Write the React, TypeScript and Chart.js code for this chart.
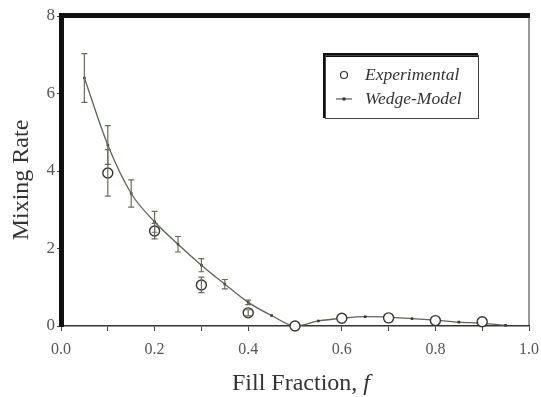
import { useEffect, useRef } from 'react';
import { Chart, registerables } from 'chart.js';
Chart.register(...registerables);

const wedgeX = [0.05, 0.1, 0.15, 0.2, 0.25, 0.3, 0.35, 0.4, 0.45, 0.5, 0.55, 0.6, 0.65, 0.7, 0.75, 0.8, 0.85, 0.9, 0.95];
const wedgeY = [6.4, 4.67, 3.42, 2.69, 2.11, 1.57, 1.08, 0.61, 0.27, 0.0, 0.13, 0.2, 0.24, 0.23, 0.19, 0.15, 0.1, 0.07, 0.02];
const wedgeErr = [0.63, 0.5, 0.35, 0.27, 0.2, 0.17, 0.12, 0.06, 0, 0, 0, 0, 0, 0, 0, 0, 0, 0, 0];
const expX = [0.1, 0.2, 0.3, 0.4, 0.5, 0.6, 0.7, 0.8, 0.9];
const expY = [3.95, 2.45, 1.06, 0.34, 0.0, 0.2, 0.21, 0.14, 0.11];
const expErr = [0.6, 0.2, 0.2, 0.08, 0, 0, 0, 0, 0];
const xTickLabels = ['0.0', '0.2', '0.4', '0.6', '0.8', '1.0'];
const yTicks = [0, 2, 4, 6, 8];

const SERIF = '"Liberation Serif", "Times New Roman", serif';

export default function App() {
  const ref = useRef<HTMLCanvasElement>(null);
  useEffect(() => {
    document.body.style.margin = '0';
    const deco = {
      id: 'deco',
      afterDatasetsDraw(chart: any) {
        const ctx = chart.ctx;
        const xs = chart.scales.x;
        const ys = chart.scales.y;
        ctx.save();
        ctx.strokeStyle = '#6b6b5a';
        ctx.lineWidth = 1.2;
        const bar = (x: number, y: number, e: number) => {
          if (!e) return;
          const px = xs.getPixelForValue(x);
          const y1 = ys.getPixelForValue(y + e);
          const y2 = ys.getPixelForValue(y - e);
          ctx.beginPath();
          ctx.moveTo(px, y1); ctx.lineTo(px, y2);
          ctx.moveTo(px - 3, y1); ctx.lineTo(px + 3, y1);
          ctx.moveTo(px - 3, y2); ctx.lineTo(px + 3, y2);
          ctx.stroke();
        };
        wedgeX.forEach((x, i) => bar(x, wedgeY[i], wedgeErr[i]));
        expX.forEach((x, i) => bar(x, expY[i], expErr[i]));
        ctx.restore();
      },
      afterDraw(chart: any) {
        const ctx = chart.ctx;
        const a = chart.chartArea;
        ctx.save();
        // top thick bar and right thin line
        ctx.fillStyle = '#111';
        ctx.fillRect(a.left - 2, a.top - 3, a.right - a.left + 3, 5);
        ctx.strokeStyle = '#333';
        ctx.lineWidth = 1;
        ctx.beginPath();
        ctx.moveTo(a.right, a.top); ctx.lineTo(a.right, a.bottom);
        ctx.stroke();
        // legend box
        const lx = 325, ly = 55, lw = 153, lh = 63;
        ctx.fillStyle = '#111';
        ctx.fillRect(lx - 2, ly - 2, lw + 2, lh + 2);
        ctx.fillStyle = '#fff';
        ctx.fillRect(lx + 1, ly + 2, lw - 1, lh - 2);
        ctx.strokeStyle = '#444';
        ctx.lineWidth = 1;
        ctx.strokeRect(lx + 0.5, ly + 0.5, lw, lh);
        // legend entries
        ctx.beginPath();
        ctx.arc(344, 75, 3.5, 0, Math.PI * 2);
        ctx.fillStyle = '#fff';
        ctx.fill();
        ctx.strokeStyle = '#333';
        ctx.lineWidth = 1.2;
        ctx.stroke();
        ctx.beginPath();
        ctx.moveTo(336, 99); ctx.lineTo(352, 99);
        ctx.strokeStyle = '#555';
        ctx.stroke();
        ctx.fillStyle = '#333';
        ctx.fillRect(342.5, 97.5, 3, 3);
        ctx.fillStyle = '#333';
        ctx.font = `italic 17.5px ${SERIF}`;
        ctx.textBaseline = 'middle';
        ctx.textAlign = 'left';
        ctx.fillText('Experimental', 365, 75);
        ctx.fillText('Wedge-Model', 365, 99);
        // axis titles
        ctx.font = `24px ${SERIF}`;
        const t1 = 'Fill Fraction, ';
        const w1 = ctx.measureText(t1).width;
        ctx.font = `italic 24px ${SERIF}`;
        const w2 = ctx.measureText('f').width;
        const sx = 301 - (w1 + w2) / 2;
        ctx.font = `24px ${SERIF}`;
        ctx.fillText(t1, sx, 384);
        ctx.font = `italic 24px ${SERIF}`;
        ctx.fillText('f', sx + w1, 384);
        ctx.translate(22, 180);
        ctx.rotate(-Math.PI / 2);
        ctx.textAlign = 'center';
        ctx.font = `24px ${SERIF}`;
        ctx.fillText('Mixing Rate', 0, 0);
        ctx.restore();
      },
    };
    const chart = new Chart(ref.current!, {
      type: 'line',
      data: {
        datasets: [
          {
            label: 'Wedge-Model',
            data: wedgeX.map((x, i) => ({ x, y: wedgeY[i] })),
            borderColor: '#5a6655',
            borderWidth: 1.3,
            backgroundColor: '#333',
            pointStyle: 'rect',
            pointRadius: 1.8,
            pointBorderWidth: 0,
            cubicInterpolationMode: 'monotone',
            clip: false,
            order: 2,
          } as any,
          {
            label: 'Experimental',
            data: expX.map((x, i) => ({ x, y: expY[i] })),
            showLine: false,
            pointStyle: 'circle',
            pointRadius: 5,
            pointBackgroundColor: '#fff',
            pointBorderColor: '#333',
            pointBorderWidth: 1.4,
            clip: false,
            order: 1,
          } as any,
        ],
      },
      options: {
        animation: false,
        responsive: true,
        maintainAspectRatio: false,
        layout: { padding: { top: 16, right: 12, left: 0, bottom: 0 } },
        plugins: { legend: { display: false }, tooltip: { enabled: false } },
        scales: {
          x: {
            type: 'linear',
            min: 0,
            max: 1,
            afterFit: (s: any) => {
              s.height = 71;
              s.paddingLeft = 0;
              s.paddingRight = 0;
            },
            ticks: {
              stepSize: 0.1,
              autoSkip: false,
              maxRotation: 0,
              color: '#555',
              font: { family: SERIF, size: 16 },
              padding: 9,
              callback: (v: any) => {
                const k = Math.round(Number(v) * 10);
                return k % 2 === 0 ? xTickLabels[k / 2] : '';
              },
            },
            grid: { drawOnChartArea: false, drawTicks: true, tickLength: 5, color: '#444' },
            border: { color: '#333', width: 1.5 },
          },
          y: {
            type: 'linear',
            min: 0,
            max: 8,
            afterFit: (s: any) => {
              s.width = 61;
              s.paddingTop = 0;
              s.paddingBottom = 0;
            },
            afterBuildTicks: (s: any) => { s.ticks = yTicks.map((v) => ({ value: v })); },
            ticks: {
              color: '#555',
              font: { family: SERIF, size: 17 },
              padding: 2,
            },
            grid: { drawOnChartArea: false, drawTicks: true, tickLength: 4, color: '#444' },
            border: { color: '#111', width: 5 },
          },
        },
      },
      plugins: [deco],
    });
    return () => chart.destroy();
  }, []);
  return (
    <div style={{ width: 541, height: 397, position: 'relative', background: '#fff' }}>
      <canvas ref={ref} />
    </div>
  );
}
